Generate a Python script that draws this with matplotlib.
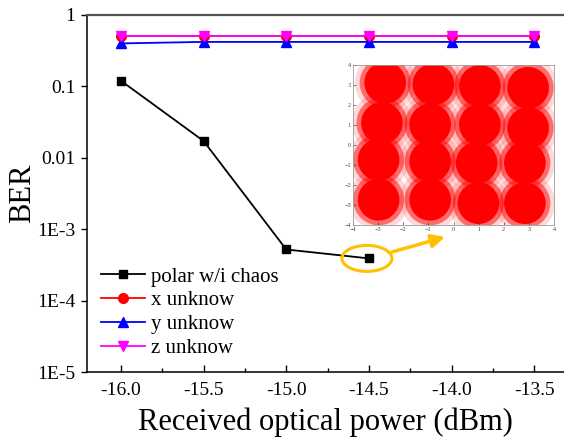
import matplotlib
matplotlib.use("Agg")
import matplotlib.pyplot as plt
from matplotlib.patches import Ellipse
from matplotlib.transforms import ScaledTranslation

# received optical power (dBm)
power = [-16.0, -15.5, -15.0, -14.5, -14.0, -13.5]

# BER curves
ber_polar = [0.12, 0.0172, 5.2e-4, 3.9e-4]
ber_x = [0.5, 0.5, 0.5, 0.5, 0.5, 0.5]
ber_y = [0.40, 0.42, 0.42, 0.42, 0.42, 0.42]
ber_z = [0.51, 0.51, 0.51, 0.51, 0.51, 0.51]

# inset constellation: centres of the 16 clusters
const_i = [-2.72, -0.80, 1.05, 2.97,
           -2.85, -0.93, 1.05, 2.97,
           -2.98, -0.93, 0.92, 2.84,
           -2.98, -0.93, 0.99, 2.84]
const_q = [3.11, 3.03, 2.95, 2.86,
           1.10, 1.02, 1.02, 0.85,
           -0.74, -0.82, -0.90, -0.90,
           -2.74, -2.74, -2.91, -2.91]

y_ticks = [1e-5, 1e-4, 1e-3, 1e-2, 1e-1, 1]
y_ticklabels = ["1E-5", "1E-4", "1E-3", "0.01", "0.1", "1"]

plt.rcParams['font.family'] = ['Liberation Serif', 'DejaVu Serif']

fig = plt.figure(figsize=(5.64, 4.45), dpi=100)
ax = fig.add_axes([0.1537, 0.164, 0.8463, 0.8023])

ax.plot(power[:len(ber_polar)], ber_polar, color='black', marker='s', ms=6, lw=1.3,
        label='polar w/i chaos')
ax.plot(power, ber_x, color='red', marker='o', ms=7, lw=1.3, label='x unknow')
ax.plot(power, ber_y, color='blue', marker='^', ms=7.5, lw=1.3, label='y unknow')
ax.plot(power, ber_z, color='magenta', marker='v', ms=7.5, lw=1.3, label='z unknow')

ax.set_yscale('log')
ax.set_ylim(1e-5, 1)
ax.set_xlim(-16.207, -13.32)
ax.set_yticks(y_ticks)
ax.set_yticklabels(y_ticklabels)
ax.minorticks_off()
ax.set_xticks(power)
ax.set_xticklabels(["%.1f" % p for p in power])
ax.set_xticks([-15.75, -15.25, -14.75, -14.25, -13.75], minor=True)

ax.tick_params(axis='x', which='major', direction='in', length=5, width=1, labelsize=14, pad=7)
ax.tick_params(axis='x', which='minor', direction='in', length=3, width=1)
ax.tick_params(axis='y', which='major', direction='out', length=4, width=1, labelsize=14, pad=4)
ax.tick_params(axis='y', which='minor', left=False)

ax.spines['right'].set_visible(False)
ax.spines['top'].set_color('#555555')
ax.spines['top'].set_linewidth(1.6)
ax.spines['left'].set_linewidth(1.1)
ax.spines['bottom'].set_linewidth(1.1)

ax.set_xlabel('Received optical power (dBm)', fontsize=22, labelpad=6)
ax.set_ylabel('BER', fontsize=22, labelpad=0)

ax.legend(loc='upper left', bbox_to_anchor=(101 / 564, 1 - 267 / 445),
          bbox_transform=fig.transFigure, frameon=False, fontsize=15,
          handlelength=2.1, handletextpad=0.3, labelspacing=0.2,
          borderpad=0, borderaxespad=0)

# orange ellipse around the last point of the black curve
tr = fig.dpi_scale_trans + ScaledTranslation(power[3], ber_polar[3], ax.transData)
ell = Ellipse((-0.02, 0.0), 0.50, 0.26, transform=tr, fill=False,
              edgecolor='#FFC000', lw=2.2, zorder=5)
fig.add_artist(ell)
ax.annotate('', xy=(445 / 564, 1 - 237 / 445), xycoords='figure fraction',
            xytext=(392 / 564, 1 - 252 / 445), textcoords='figure fraction',
            arrowprops=dict(arrowstyle='-|>', color='#FFC000', lw=2.5,
                            mutation_scale=20, shrinkA=0, shrinkB=0))

# inset constellation
axi = fig.add_axes([0.6259, 0.4944, 0.3564, 0.3596])
axi.scatter(const_i, const_q, s=1900, color='red', alpha=0.15, edgecolors='none')
axi.scatter(const_i, const_q, s=1350, color='red', alpha=0.5, edgecolors='none')
axi.scatter(const_i, const_q, s=900, color='red', edgecolors='none')
axi.set_xlim(-4, 4)
axi.set_ylim(-4, 4)
axi.set_xticks(range(-4, 5))
axi.set_yticks(range(-4, 5))
axi.tick_params(direction='in', length=2, width=0.5, labelsize=4.5, colors='#444444', pad=1.5)
for s in axi.spines.values():
    s.set_color('#999999')
    s.set_linewidth(0.6)

fig.savefig('out.png', dpi=100)
